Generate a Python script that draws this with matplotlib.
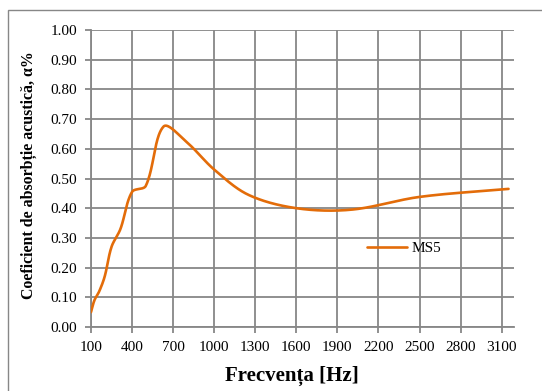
import numpy as np
import matplotlib
matplotlib.use("Agg")
import matplotlib.pyplot as plt
from matplotlib.patches import Rectangle

plt.rcParams['font.family'] = ['Liberation Serif', 'DejaVu Serif']

# 1/3-octave band centres and absorption coefficient for sample MS5
freq = [100, 125, 160, 200, 250, 315, 400, 500, 630, 800,
        1000, 1250, 1600, 2000, 2500, 3150]
alpha = [0.05, 0.09, 0.12, 0.17, 0.27, 0.33, 0.455, 0.475, 0.675, 0.622,
         0.53, 0.445, 0.40, 0.395, 0.438, 0.465]
series_name = 'MS5'
x_ticks = list(range(100, 3101, 300))
y_ticks = [i / 10 for i in range(11)]

GRID = '#878787'
ORANGE = '#E36C09'

X_MIN, X_MAX = 100, 3190
AX_W_PX, AX_H_PX = 514 - 91, 327 - 30


def smooth_curve(xs, ys, n=40):
    # bezier smoothing with control arms weighted by neighbouring chord lengths,
    # worked out in pixel space so it behaves like a spreadsheet "smoothed line"
    sx = AX_W_PX / (X_MAX - X_MIN)
    sy = AX_H_PX / 1.0
    p = np.column_stack([np.asarray(xs, float) * sx, np.asarray(ys, float) * sy])
    m = len(p)
    c_out = np.zeros_like(p)
    c_in = np.zeros_like(p)
    for i in range(m):
        prev_p = p[i - 1] if i > 0 else p[i]
        next_p = p[i + 1] if i < m - 1 else p[i]
        tan = next_p - prev_p
        d_prev = np.hypot(*(p[i] - prev_p))
        d_next = np.hypot(*(next_p - p[i]))
        tot = d_prev + d_next
        if tot == 0:
            c_out[i] = c_in[i] = p[i]
            continue
        c_out[i] = p[i] + tan * d_next / tot / 3
        c_in[i] = p[i] - tan * d_prev / tot / 3
    t = np.linspace(0, 1, n)[:, None]
    segs = []
    for i in range(m - 1):
        p0, c1, c2, p3 = p[i], c_out[i], c_in[i + 1], p[i + 1]
        segs.append((1 - t) ** 3 * p0 + 3 * (1 - t) ** 2 * t * c1
                    + 3 * (1 - t) * t ** 2 * c2 + t ** 3 * p3)
    pts = np.vstack(segs)
    return pts[:, 0] / sx, pts[:, 1] / sy


fig = plt.figure(figsize=(5.42, 3.91), dpi=100)
fig.patches.append(Rectangle((8 / 542, -0.1), 1.2, 1 - 10 / 391 + 0.1,
                             transform=fig.transFigure, fill=False,
                             edgecolor=GRID, linewidth=1.0))

ax = fig.add_axes([91 / 542, 1 - 327 / 391, AX_W_PX / 542, AX_H_PX / 391])
cx, cy = smooth_curve(freq, alpha)
ax.plot(cx, cy, color=ORANGE, linewidth=1.9, label=series_name,
        solid_capstyle='round', zorder=3)

ax.set_xlim(X_MIN, X_MAX)
ax.set_ylim(0, 1.0)
ax.set_xticks(x_ticks)
ax.set_yticks(y_ticks)
ax.set_yticklabels([f'{v:.2f}' for v in y_ticks])
ax.grid(True, color=GRID, linewidth=1.3)
ax.set_axisbelow(True)
for side in ['top', 'right']:
    ax.spines[side].set_visible(False)
for side in ['left', 'bottom']:
    ax.spines[side].set_color(GRID)
    ax.spines[side].set_linewidth(1.3)
ax.tick_params(axis='both', colors=GRID, labelcolor='black', length=4,
               width=1.3, labelsize=11)
ax.tick_params(axis='x', pad=6)
ax.tick_params(axis='y', pad=6)

ax.legend(loc='center left', bbox_to_anchor=(0.62, 0.265), frameon=False,
          fontsize=11, handlelength=2.6, handletextpad=0.3)

fig.text(292 / 542, 1 - 376 / 391, 'Frecvența [Hz]', ha='center', va='center',
         fontsize=15, fontweight='bold')
fig.text(29 / 542, 1 - 175 / 391, 'Coeficient de absorbție acustică, α%',
         rotation=90, ha='center', va='center', fontsize=11.4, fontweight='bold')

fig.savefig('out.png', dpi=100)
